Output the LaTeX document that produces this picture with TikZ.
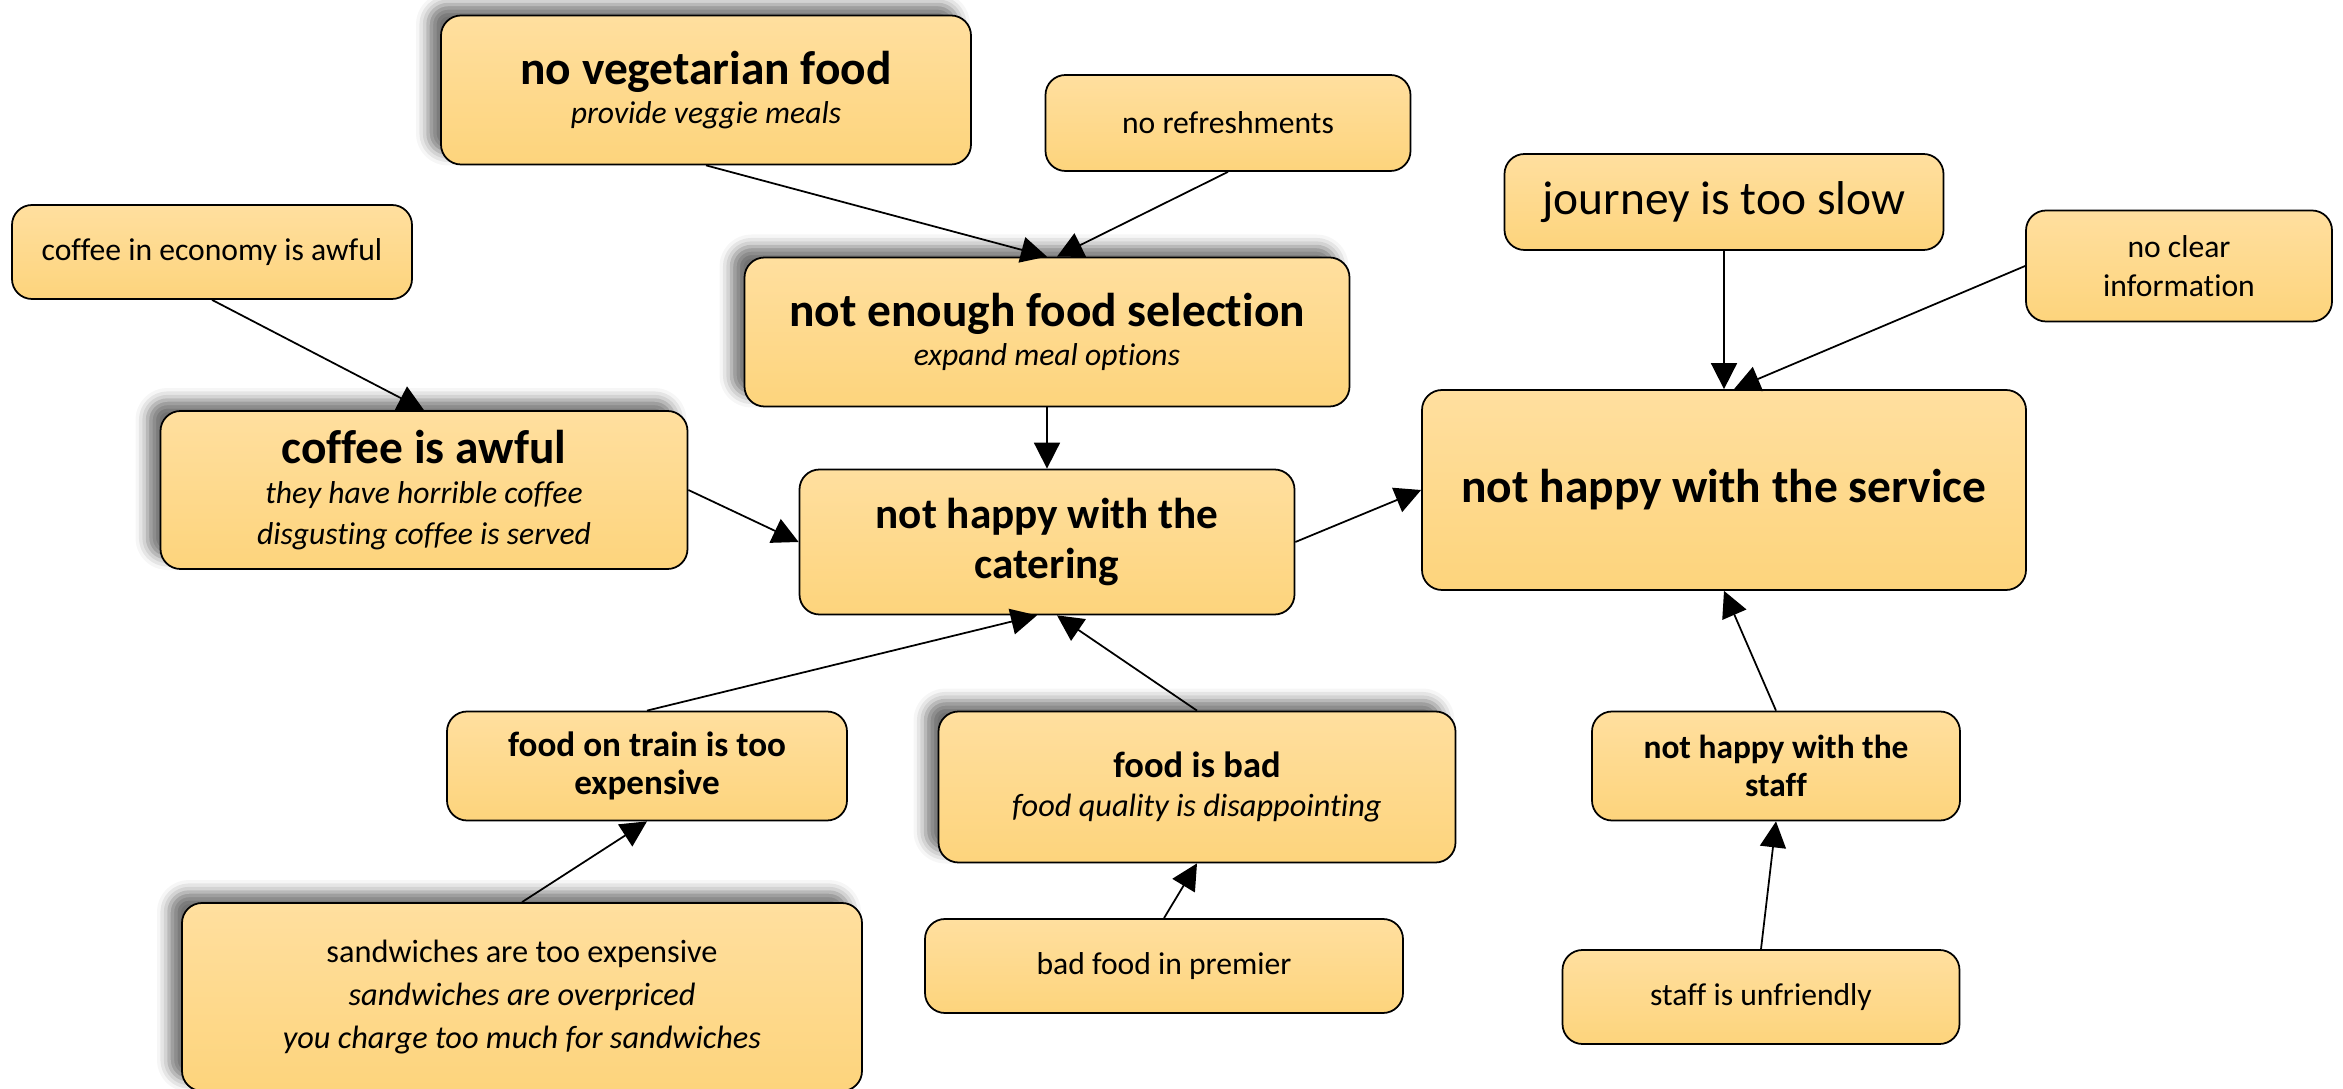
\documentclass[tikz,border=0pt]{standalone}
\usepackage{fontspec}
\setmainfont{Carlito}[Ligatures=NoCommon]
\usetikzlibrary{arrows.meta,shadows.blur}

\definecolor{boxtop}{HTML}{FFDF9F}
\definecolor{boxbottom}{HTML}{FDD47C}

\newcommand{\headline}[1]{{\fontsize{13.5}{16}\selectfont\bfseries #1}}
\newcommand{\midline}[1]{{\fontsize{10}{12.5}\selectfont\bfseries #1}}

\begin{document}
\begin{tikzpicture}[
  box/.style={rectangle, draw, line width=0.5pt, rounded corners=2mm, top color=boxtop, bottom color=boxbottom,
    text centered, align=center, font=\fontsize{9}{11}\selectfont},
  shadowed/.style={blur shadow={shadow xshift=-1.3mm, shadow yshift=1.1mm, shadow blur radius=1.2mm, shadow opacity=55}},
  arrow/.style={-{Triangle[length=2.6mm,width=2.6mm]}, line width=0.5pt}
]
  \useasboundingbox (0,0) rectangle (23.43,-10.89);

  % catering causes
  \node[box, shadowed, minimum width=5.30cm, minimum height=1.49cm] (veg) at (7.06,-0.90) {\headline{no vegetarian food}\\ \textit{provide veggie meals}};
  \node[box, minimum width=3.65cm, minimum height=0.96cm] (refresh) at (12.28,-1.23) {no refreshments};
  \node[box, shadowed, minimum width=6.05cm, minimum height=1.49cm] (selection) at (10.47,-3.32) {\headline{not enough food selection}\\ \textit{expand meal options}};
  \node[box, minimum width=4.00cm, minimum height=0.94cm] (economy) at (2.12,-2.52) {coffee in economy is awful};
  \node[box, shadowed, minimum width=5.27cm, minimum height=1.58cm, font=\fontsize{9}{11.6}\selectfont] (coffee) at (4.24,-4.90) {\headline{coffee is awful}\\ \textit{they have horrible coffee}\\ \textit{disgusting coffee is served}};
  \node[box, minimum width=4.95cm, minimum height=1.45cm, font=\fontsize{12.3}{14.5}\selectfont\bfseries] (catering) at (10.47,-5.42) {not happy with the\\ catering};
  \node[box, minimum width=4.00cm, minimum height=1.09cm] (pricey) at (6.47,-7.66) {\midline{food on train is too}\\ \midline{expensive}};
  \node[box, shadowed, minimum width=5.17cm, minimum height=1.51cm] (badfood) at (11.97,-7.87) {{\fontsize{10.4}{12.5}\selectfont\bfseries food is bad}\\ {\fontsize{9.2}{11}\selectfont\itshape food quality is disappointing}};
  \node[box, shadowed, minimum width=6.80cm, minimum height=1.88cm, font=\fontsize{9.2}{12.2}\selectfont] (sandwich) at (5.22,-9.97) {sandwiches are too expensive\\ \textit{sandwiches are overpriced}\\ \textit{you charge too much for sandwiches}};
  \node[box, minimum width=4.78cm, minimum height=0.94cm] (premier) at (11.64,-9.66) {bad food in premier};

  % service causes
  \node[box, minimum width=4.39cm, minimum height=0.96cm] (journey) at (17.24,-2.02) {\fontsize{13.5}{16}\selectfont journey is too slow};
  \node[box, minimum width=3.06cm, minimum height=1.11cm] (info) at (21.79,-2.66) {no clear\\ information};
  \node[box, minimum width=6.04cm, minimum height=2.00cm] (service) at (17.24,-4.90) {\headline{not happy with the service}};
  \node[box, minimum width=3.68cm, minimum height=1.09cm] (staff) at (17.76,-7.66) {{\fontsize{9.5}{12}\selectfont\bfseries not happy with the}\\ {\fontsize{9.5}{12}\selectfont\bfseries staff}};
  \node[box, minimum width=3.97cm, minimum height=0.94cm] (unfriendly) at (17.61,-9.97) {staff is unfriendly};

  \draw[arrow] (veg.south) -- (selection.north);
  \draw[arrow] (refresh.south) -- ([xshift=1mm]selection.north);
  \draw[arrow] (economy.south) -- (coffee.north);
  \draw[arrow] (selection.south) -- (catering.north);
  \draw[arrow] (coffee.east) -- (catering.west);
  \draw[arrow] (pricey.north) -- ([xshift=-1mm]catering.south);
  \draw[arrow] (badfood.north) -- ([xshift=1mm]catering.south);
  \draw[arrow] (sandwich.north) -- (pricey.south);
  \draw[arrow] (premier.north) -- (badfood.south);
  \draw[arrow] (catering.east) -- (service.west);
  \draw[arrow] (journey.south) -- (service.north);
  \draw[arrow] (info.west) -- ([xshift=1mm]service.north);
  \draw[arrow] (staff.north) -- (service.south);
  \draw[arrow] (unfriendly.north) -- (staff.south);
\end{tikzpicture}
\end{document}
